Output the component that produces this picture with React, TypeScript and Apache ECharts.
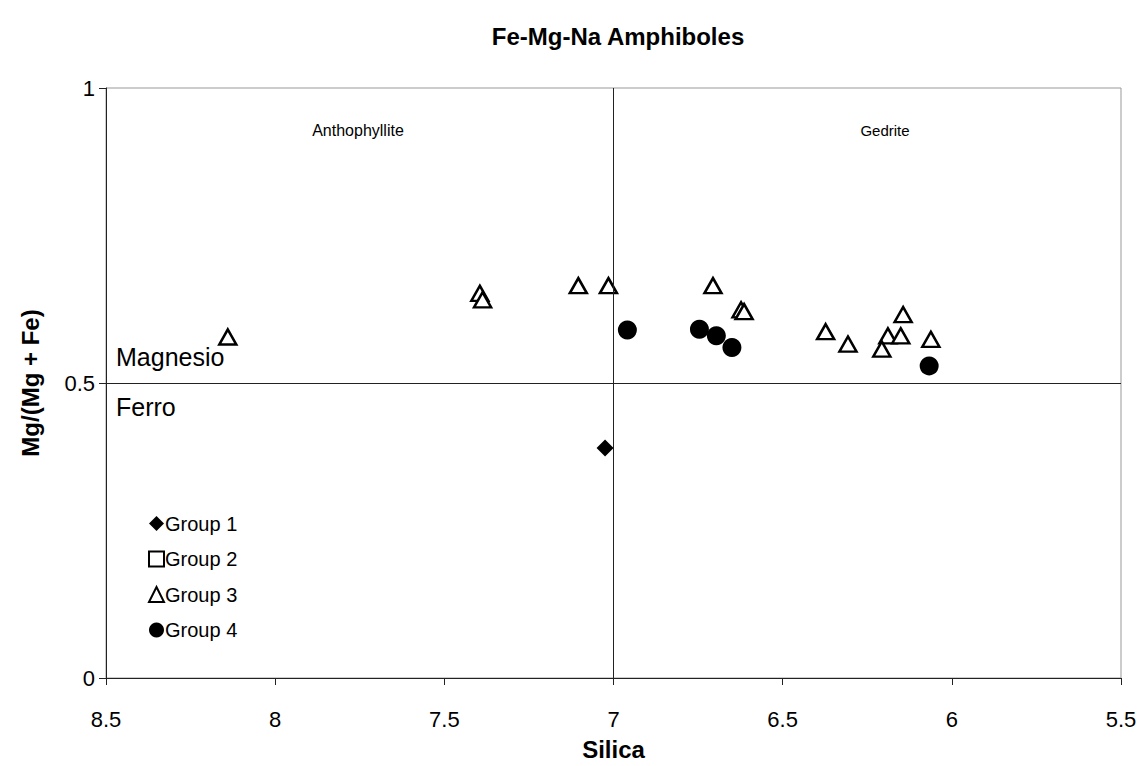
import React, { useEffect, useRef } from "react";
import * as echarts from "echarts";

const FONT = "'Liberation Sans', Arial, sans-serif";

const group1: [number, number][] = [[7.025, 0.39]];
const group2: [number, number][] = [];
const group3: [number, number][] = [
  [8.14, 0.578],
  [7.395, 0.652],
  [7.387, 0.641],
  [7.104, 0.665],
  [7.015, 0.665],
  [6.706, 0.665],
  [6.623, 0.624],
  [6.614, 0.621],
  [6.373, 0.587],
  [6.307, 0.566],
  [6.144, 0.616],
  [6.189, 0.58],
  [6.151, 0.58],
  [6.207, 0.5575],
  [6.062, 0.574],
];
const group4: [number, number][] = [
  [6.959, 0.59],
  [6.746, 0.591],
  [6.696, 0.58],
  [6.65, 0.56],
  [6.067, 0.529],
];

const dividerSilica = 7;
const dividerRatio = 0.5;

export default function App() {
  const ref = useRef<HTMLDivElement>(null);
  useEffect(() => {
    if (!ref.current) return;
    const chart = echarts.init(ref.current, null, { renderer: "svg" });
    const labelStyle = { fontFamily: FONT, color: "#000" };
    chart.setOption({
      animation: false,
      backgroundColor: "#fff",
      title: {
        text: "Fe-Mg-Na Amphiboles",
        left: 613,
        textAlign: "center",
        top: 19,
        textStyle: { fontFamily: FONT, fontWeight: "bold", fontSize: 24, color: "#000" },
      },
      legend: {
        orient: "vertical",
        left: 143,
        top: 508,
        itemWidth: 15,
        itemHeight: 15,
        itemGap: 14.5,
        selectedMode: false,
        textStyle: { fontFamily: FONT, fontSize: 20, color: "#000", lineHeight: 21, padding: [0, 0, 0, -4] },
        data: ["Group 1", "Group 2", "Group 3", "Group 4"],
      },
      grid: {
        left: 106,
        right: 23,
        top: 88,
        bottom: 87,
        show: true,
        borderColor: "#999",
        borderWidth: 1,
        backgroundColor: "transparent",
      },
      xAxis: {
        type: "value",
        min: 5.5,
        max: 8.5,
        interval: 0.5,
        inverse: true,
        name: "Silica",
        nameLocation: "middle",
        nameGap: 59,
        nameTextStyle: { fontFamily: FONT, fontWeight: "bold", fontSize: 24, color: "#000" },
        axisLine: { lineStyle: { color: "#222", width: 1 } },
        axisTick: { show: true, length: 7, lineStyle: { color: "#222" } },
        axisLabel: { ...labelStyle, fontSize: 22, margin: 30 },
        splitLine: { show: false },
      },
      yAxis: {
        type: "value",
        min: 0,
        max: 1,
        interval: 0.5,
        name: "Mg/(Mg + Fe)",
        nameLocation: "middle",
        nameGap: 64,
        nameRotate: 90,
        nameTextStyle: { fontFamily: FONT, fontWeight: "bold", fontSize: 24, color: "#000" },
        axisLine: { show: true, lineStyle: { color: "#222", width: 1 } },
        axisTick: { show: true, length: 7, lineStyle: { color: "#222" } },
        axisLabel: { ...labelStyle, fontSize: 22, margin: 11 },
        splitLine: { show: false },
      },
      series: [
        {
          name: "Group 1",
          type: "scatter",
          symbol: "diamond",
          symbolSize: 17,
          itemStyle: { color: "#000", opacity: 1 },
          data: group1,
          z: 5,
          markLine: {
            silent: true,
            symbol: "none",
            label: { show: false },
            lineStyle: { color: "#222", width: 1, type: "solid" },
            data: [{ xAxis: dividerSilica }, { yAxis: dividerRatio }],
          },
        },
        {
          name: "Group 2",
          type: "scatter",
          symbol: "rect",
          symbolSize: 15,
          itemStyle: { color: "#fff", borderColor: "#000", borderWidth: 2, opacity: 1 },
          data: group2,
        },
        {
          name: "Group 3",
          type: "scatter",
          symbol: "triangle",
          symbolSize: [17, 15],
          itemStyle: { color: "#fff", borderColor: "#000", borderWidth: 2.5, opacity: 1 },
          data: group3,
          z: 4,
        },
        {
          name: "Group 4",
          type: "scatter",
          symbol: "circle",
          symbolSize: 19,
          itemStyle: { color: "#000", opacity: 1 },
          data: group4,
          z: 4,
        },
      ],
      graphic: [
        { type: "text", x: 358, y: 130, style: { text: "Anthophyllite", fontFamily: FONT, fontSize: 16, fill: "#000", align: "center", verticalAlign: "middle" } },
        { type: "text", x: 885, y: 130, style: { text: "Gedrite", fontFamily: FONT, fontSize: 15, fill: "#000", align: "center", verticalAlign: "middle" } },
        { type: "text", x: 116, y: 357, style: { text: "Magnesio", fontFamily: FONT, fontSize: 25, fill: "#000", verticalAlign: "middle" } },
        { type: "text", x: 116, y: 407, style: { text: "Ferro", fontFamily: FONT, fontSize: 25, fill: "#000", verticalAlign: "middle" } },
      ],
    });
    return () => chart.dispose();
  }, []);
  return <div ref={ref} style={{ width: 1144, height: 766, margin: -8 }} />;
}
